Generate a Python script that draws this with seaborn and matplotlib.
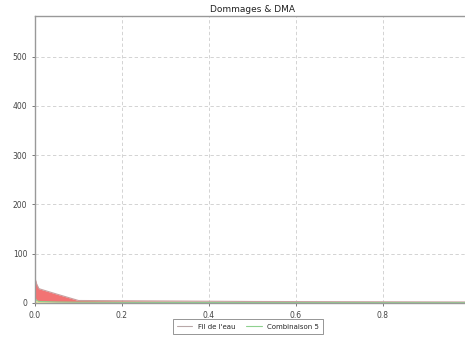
import matplotlib
matplotlib.use("Agg")
import matplotlib.pyplot as plt
import seaborn as sns
import pandas as pd
from matplotlib.lines import Line2D

frequence = [0.0, 0.004, 0.009, 0.05, 0.1, 0.2, 0.5, 1.0]
fil_de_leau = [50, 38, 29, 18, 5, 4.5, 3, 2]
combinaison_5 = [10, 5, 3, 2, 1.5, 1.2, 0.8, 0.5]

sns.set_theme(style="ticks")
plt.rcParams['font.family'] = ['DejaVu Sans']

df = pd.DataFrame({"x": frequence, "Fil de l'eau": fil_de_leau, "Combinaison 5": combinaison_5})

fig = plt.figure(figsize=(4.65, 3.37), dpi=100)
ax = fig.add_axes([0.0753, 0.101, 0.935, 0.852])

ax.fill_between(df["x"], df["Combinaison 5"], df["Fil de l'eau"], color="#f26b6b", alpha=0.95, linewidth=0)
ax.fill_between(df["x"], 0, df["Combinaison 5"], color="#e8e08a", alpha=0.8, linewidth=0)
sns.lineplot(data=df, x="x", y="Fil de l'eau", ax=ax, color="#c8a0a0", linewidth=0.8, legend=False)
sns.lineplot(data=df, x="x", y="Combinaison 5", ax=ax, color="#8fd18f", linewidth=0.8, legend=False)

ax.set_xlim(0, 1.0)
ax.set_ylim(0, 583)
ax.set_xticks([0.0, 0.2, 0.4, 0.6, 0.8])
ax.set_yticks([0, 100, 200, 300, 400, 500])
ax.set_xlabel("")
ax.set_ylabel("")
ax.set_title("Dommages & DMA", fontsize=6.5, color="#222222", pad=3)
ax.grid(True, linestyle=(0, (4, 3)), color="#cccccc", linewidth=0.6)
for s in ax.spines.values():
    s.set_color("#999999")
    s.set_linewidth(1.0)
ax.tick_params(labelsize=5.5, colors="#444444", length=2, width=0.5)

handles = [Line2D([], [], color="#b8a8a8", linewidth=0.8),
           Line2D([], [], color="#8fd18f", linewidth=0.8)]
leg = ax.legend(handles, ["Fil de l'eau", "Combinaison 5"], loc="upper center",
                bbox_to_anchor=(0.49, -0.045), ncol=2, fontsize=5,
                frameon=True, fancybox=False, edgecolor="#666666", handlelength=2.2,
                columnspacing=1.6, borderpad=0.6, handletextpad=0.8)
leg.get_frame().set_linewidth(0.6)

fig.savefig("out.png", dpi=100)
